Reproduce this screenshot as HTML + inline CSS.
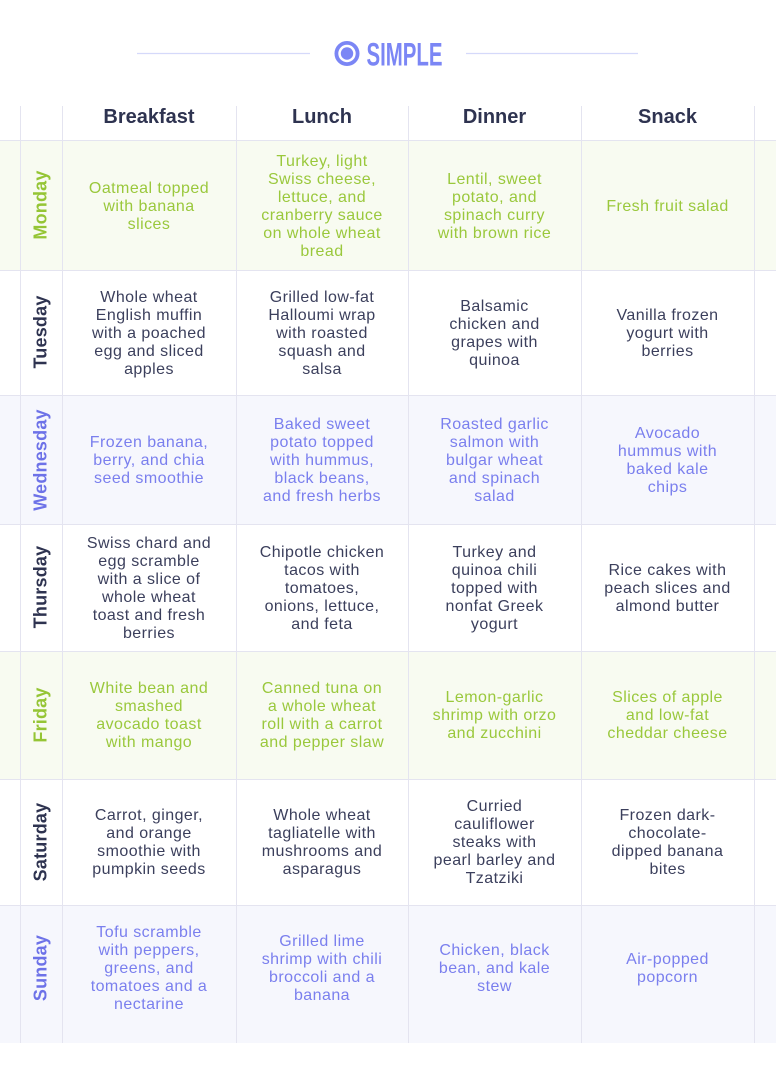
<!DOCTYPE html>
<html>
<head>
<meta charset="utf-8">
<style>
  html,body{margin:0;padding:0;background:#fff;}
  body{width:776px;height:1084px;position:relative;overflow:hidden;font-family:"Liberation Sans",Arial,sans-serif;}
  .bg{position:absolute;left:0;width:776px;}
  .g{background:#f8fbf1;}
  .p{background:#f6f7fd;}
  .hl{position:absolute;left:0;width:776px;height:1px;background:#e4e4f0;}
  .vl{position:absolute;top:106px;width:1px;height:937px;background:#e4e4f0;}
  .hd{position:absolute;top:101px;height:32px;line-height:32px;text-align:center;font-weight:bold;font-size:20px;color:#2e3350;}
  .c{position:absolute;display:flex;align-items:center;justify-content:center;text-align:center;font-size:16px;line-height:18px;letter-spacing:0.45px;white-space:nowrap;color:#3b3f5c;}
  .day{position:absolute;font-weight:bold;font-size:18px;white-space:nowrap;transform:translate(-50%,-50%) rotate(-90deg);color:#2e3350;letter-spacing:0.2px;}
  .tg{color:#9ac83c;}
  .tp{color:#7a7fee;}
  .dg{color:#95c535;}
  .dp{color:#6d72e8;}
</style>
</head>
<body>
<!-- logo -->
<svg style="position:absolute;left:0;top:0" width="776" height="95">
  <line x1="137" y1="53.5" x2="310" y2="53.5" stroke="#d5d9fa" stroke-width="1.2"/>
  <line x1="466" y1="53.5" x2="638" y2="53.5" stroke="#d5d9fa" stroke-width="1.2"/>
  <circle cx="347" cy="53.5" r="10.6" fill="none" stroke="#7b86f5" stroke-width="3.8"/>
  <circle cx="347" cy="53.5" r="6.2" fill="#7b86f5"/>
  <text x="366.5" y="65.7" font-family="Liberation Sans, Arial, sans-serif" font-weight="bold" font-size="32" fill="#7b86f5" textLength="76" lengthAdjust="spacingAndGlyphs">SIMPLE</text>
</svg>

<!-- row backgrounds -->
<div class="bg g" style="top:141px;height:129px"></div>
<div class="bg p" style="top:395px;height:129px"></div>
<div class="bg g" style="top:651px;height:128px"></div>
<div class="bg p" style="top:905px;height:138px"></div>

<!-- horizontal lines -->
<div class="hl" style="top:140px"></div>
<div class="hl" style="top:270px"></div>
<div class="hl" style="top:395px"></div>
<div class="hl" style="top:524px"></div>
<div class="hl" style="top:651px"></div>
<div class="hl" style="top:779px"></div>
<div class="hl" style="top:905px"></div>

<!-- vertical lines -->
<div class="vl" style="left:20px"></div>
<div class="vl" style="left:62px"></div>
<div class="vl" style="left:236px"></div>
<div class="vl" style="left:408px"></div>
<div class="vl" style="left:581px"></div>
<div class="vl" style="left:754px"></div>

<!-- headers -->
<div class="hd" style="left:62px;width:174px">Breakfast</div>
<div class="hd" style="left:236px;width:172px">Lunch</div>
<div class="hd" style="left:408px;width:173px">Dinner</div>
<div class="hd" style="left:581px;width:173px">Snack</div>

<!-- day labels -->
<div class="day dg" style="left:41px;top:205px">Monday</div>
<div class="day" style="left:41px;top:332px">Tuesday</div>
<div class="day dp" style="left:41px;top:460px">Wednesday</div>
<div class="day" style="left:41px;top:587px">Thursday</div>
<div class="day dg" style="left:41px;top:715px">Friday</div>
<div class="day" style="left:41px;top:842px">Saturday</div>
<div class="day dp" style="left:41px;top:968px">Sunday</div>

<!-- Monday -->
<div class="c tg" style="left:62px;width:174px;top:142px;height:129px">Oatmeal topped<br>with banana<br>slices</div>
<div class="c tg" style="left:236px;width:172px;top:142px;height:129px">Turkey, light<br>Swiss cheese,<br>lettuce, and<br>cranberry sauce<br>on whole wheat<br>bread</div>
<div class="c tg" style="left:408px;width:173px;top:142px;height:129px">Lentil, sweet<br>potato, and<br>spinach curry<br>with brown rice</div>
<div class="c tg" style="left:581px;width:173px;top:142px;height:129px">Fresh fruit salad</div>

<!-- Tuesday -->
<div class="c" style="left:62px;width:174px;top:271px;height:125px">Whole wheat<br>English muffin<br>with a poached<br>egg and sliced<br>apples</div>
<div class="c" style="left:236px;width:172px;top:271px;height:125px">Grilled low-fat<br>Halloumi wrap<br>with roasted<br>squash and<br>salsa</div>
<div class="c" style="left:408px;width:173px;top:271px;height:125px">Balsamic<br>chicken and<br>grapes with<br>quinoa</div>
<div class="c" style="left:581px;width:173px;top:271px;height:125px">Vanilla frozen<br>yogurt with<br>berries</div>

<!-- Wednesday -->
<div class="c tp" style="left:62px;width:174px;top:396px;height:129px">Frozen banana,<br>berry, and chia<br>seed smoothie</div>
<div class="c tp" style="left:236px;width:172px;top:396px;height:129px">Baked sweet<br>potato topped<br>with hummus,<br>black beans,<br>and fresh herbs</div>
<div class="c tp" style="left:408px;width:173px;top:396px;height:129px">Roasted garlic<br>salmon with<br>bulgar wheat<br>and spinach<br>salad</div>
<div class="c tp" style="left:581px;width:173px;top:396px;height:129px">Avocado<br>hummus with<br>baked kale<br>chips</div>

<!-- Thursday -->
<div class="c" style="left:62px;width:174px;top:525px;height:127px">Swiss chard and<br>egg scramble<br>with a slice of<br>whole wheat<br>toast and fresh<br>berries</div>
<div class="c" style="left:236px;width:172px;top:525px;height:127px">Chipotle chicken<br>tacos with<br>tomatoes,<br>onions, lettuce,<br>and feta</div>
<div class="c" style="left:408px;width:173px;top:525px;height:127px">Turkey and<br>quinoa chili<br>topped with<br>nonfat Greek<br>yogurt</div>
<div class="c" style="left:581px;width:173px;top:525px;height:127px">Rice cakes with<br>peach slices and<br>almond butter</div>

<!-- Friday -->
<div class="c tg" style="left:62px;width:174px;top:652px;height:128px">White bean and<br>smashed<br>avocado toast<br>with mango</div>
<div class="c tg" style="left:236px;width:172px;top:652px;height:128px">Canned tuna on<br>a whole wheat<br>roll with a carrot<br>and pepper slaw</div>
<div class="c tg" style="left:408px;width:173px;top:652px;height:128px">Lemon-garlic<br>shrimp with orzo<br>and zucchini</div>
<div class="c tg" style="left:581px;width:173px;top:652px;height:128px">Slices of apple<br>and low-fat<br>cheddar cheese</div>

<!-- Saturday -->
<div class="c" style="left:62px;width:174px;top:780px;height:126px">Carrot, ginger,<br>and orange<br>smoothie with<br>pumpkin seeds</div>
<div class="c" style="left:236px;width:172px;top:780px;height:126px">Whole wheat<br>tagliatelle with<br>mushrooms and<br>asparagus</div>
<div class="c" style="left:408px;width:173px;top:780px;height:126px">Curried<br>cauliflower<br>steaks with<br>pearl barley and<br>Tzatziki</div>
<div class="c" style="left:581px;width:173px;top:780px;height:126px">Frozen dark-<br>chocolate-<br>dipped banana<br>bites</div>

<!-- Sunday -->
<div class="c tp" style="left:62px;width:174px;top:906px;height:126px">Tofu scramble<br>with peppers,<br>greens, and<br>tomatoes and a<br>nectarine</div>
<div class="c tp" style="left:236px;width:172px;top:906px;height:126px">Grilled lime<br>shrimp with chili<br>broccoli and a<br>banana</div>
<div class="c tp" style="left:408px;width:173px;top:906px;height:126px">Chicken, black<br>bean, and kale<br>stew</div>
<div class="c tp" style="left:581px;width:173px;top:906px;height:126px">Air-popped<br>popcorn</div>
</body>
</html>
